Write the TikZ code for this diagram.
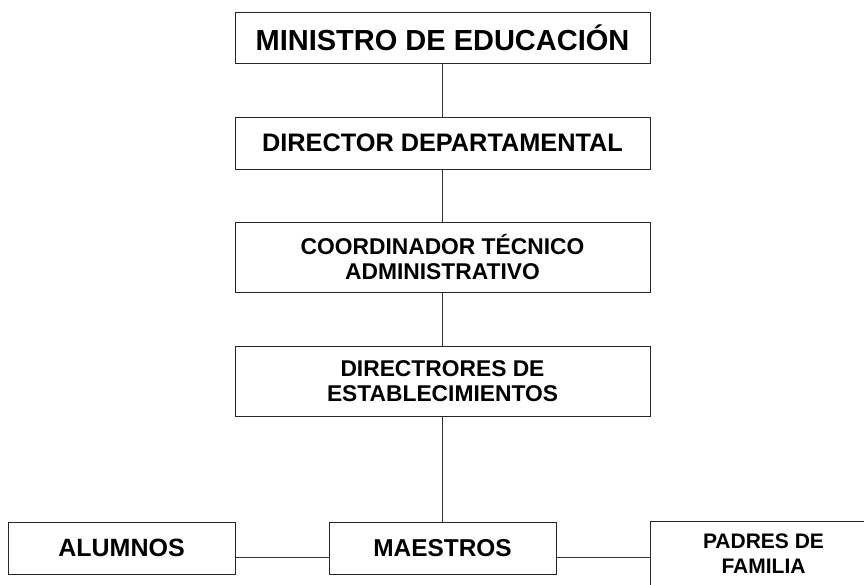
\documentclass[tikz,border=0pt]{standalone}
\usepackage{fontspec}
\setmainfont{Liberation Sans}
\begin{document}
\begin{tikzpicture}[x=1pt,y=-1pt,
  orgbox/.style={draw=black!85, line width=1pt, inner sep=0pt, align=center, font=\bfseries, fill=white},
  conn/.style={draw=black!80, line width=1pt}]
\useasboundingbox (0,0) rectangle (864,584);
\clip (0,0) rectangle (864,584);
\fill[white] (0,0) rectangle (864,584);
\node[orgbox, minimum width=415pt, minimum height=51pt, font=\bfseries\fontsize{29}{32}\selectfont] (min) at (442.5,37.5) {MINISTRO DE EDUCACIÓN};
\node[orgbox, minimum width=415pt, minimum height=52pt, font=\bfseries\fontsize{25.3}{28}\selectfont] (dir) at (442.5,143) {DIRECTOR DEPARTAMENTAL};
\node[orgbox, minimum width=415pt, minimum height=70pt, font=\bfseries\fontsize{22.8}{25.5}\selectfont] (coo) at (442.5,257) {COORDINADOR TÉCNICO\\ADMINISTRATIVO};
\node[orgbox, minimum width=415pt, minimum height=70pt, font=\bfseries\fontsize{22.8}{25}\selectfont] (dre) at (442.5,381) {DIRECTRORES DE\\ESTABLECIMIENTOS};
\node[orgbox, minimum width=227pt, minimum height=52pt, font=\bfseries\fontsize{25}{27}\selectfont] (alu) at (121.5,548) {ALUMNOS};
\node[orgbox, minimum width=227pt, minimum height=52pt, font=\bfseries\fontsize{24.4}{27}\selectfont] (mae) at (442.5,548) {MAESTROS};
\node[orgbox, minimum width=227pt, minimum height=66pt, font=\bfseries\fontsize{21}{25}\selectfont] (pad) at (763.5,554) {PADRES DE\\FAMILIA};
\draw[conn] (min.south) -- (dir.north);
\draw[conn] (dir.south) -- (coo.north);
\draw[conn] (coo.south) -- (dre.north);
\draw[conn] (dre.south) -- (mae.north);
\coordinate (mw) at ([yshift=-9pt]mae.west);
\coordinate (me) at ([yshift=-9pt]mae.east);
\draw[conn] (mw) -- (mw -| alu.east);
\draw[conn] (me) -- (me -| pad.west);
\end{tikzpicture}
\end{document}
